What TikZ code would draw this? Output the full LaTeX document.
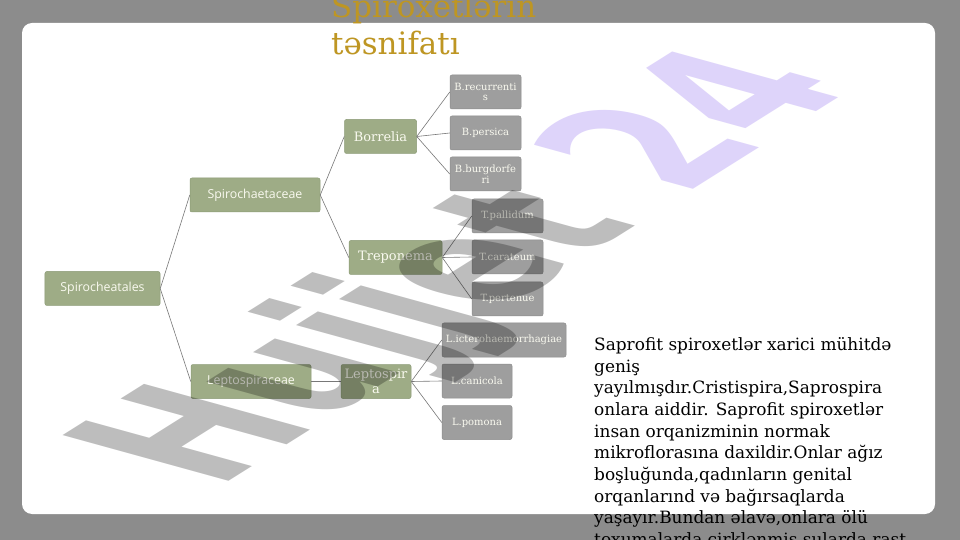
\documentclass[tikz,border=0pt]{standalone}
\usepackage{fontspec}
\setmainfont{DejaVu Serif}
\newfontfamily\boxsans{Open Sans}
\newfontfamily\wmfont{DejaVu Sans}
\definecolor{bggrey}{RGB}{140,140,140}
\definecolor{gold}{RGB}{190,150,35}
\definecolor{boxgreen}{RGB}{158,172,134}
\definecolor{boxgreenedge}{RGB}{140,155,118}
\definecolor{leafgrey}{RGB}{158,158,158}
\definecolor{leafedge}{RGB}{140,140,140}
\definecolor{boxtext}{RGB}{250,250,240}
\definecolor{linegrey}{RGB}{120,120,120}
\definecolor{lav}{RGB}{128,90,236}
\begin{document}
\begin{tikzpicture}[x=1bp,y=-1bp,
  basebox/.style={rounded corners=2bp, inner sep=0pt, text=boxtext, align=center, minimum height=34bp, line width=0.5bp},
  famgreen/.style={basebox, fill=boxgreen, draw=boxgreenedge, font=\boxsans\fontsize{12.4}{14}\selectfont},
  genusgreen/.style={basebox, fill=boxgreen, draw=boxgreenedge, font=\fontsize{13}{15}\selectfont},
  leafbox/.style={basebox, fill=leafgrey, draw=leafedge, minimum width=71bp, font=\fontsize{10}{10.5}\selectfont},
  link/.style={draw=linegrey, line width=0.6bp}]
% background and card
\fill[bggrey] (0,0) rectangle (960,540);
\useasboundingbox (0,0) rectangle (960,540);
\fill[white, rounded corners=10bp] (22,23) rectangle (935,514);
% title
\node[anchor=base west, inner sep=0pt, align=left, text=gold, font=\fontsize{31}{38}\selectfont] (title) at (331,55) {Spiroxetlərin\\təsnifatı};
% diagram nodes
\node[famgreen, minimum width=115bp] (sp0) at (102.5,288.5) {Spirocheatales};
\node[famgreen, minimum width=130bp] (sp1) at (255,195) {Spirochaetaceae};
\node[famgreen, minimum width=120bp] (lp1) at (251,381.5) {Leptospiraceae};
\node[genusgreen, minimum width=72bp] (bor) at (380.5,136.5) {Borrelia};
\node[genusgreen, minimum width=93bp] (tre) at (395.5,257.5) {Treponema};
\node[genusgreen, minimum width=70bp] (lep) at (376,381.5) {Leptospir\\a};
\node[leafbox] (b1) at (485.5,92) {B.recurrenti\\s};
\node[leafbox] (b2) at (485.5,133) {B.persica};
\node[leafbox] (b3) at (485.5,174) {B.burgdorfe\\ri};
\node[leafbox] (t1) at (507.5,216) {T.pallidum};
\node[leafbox] (t2) at (507.5,257) {T.carateum};
\node[leafbox] (t3) at (507.5,299) {T.pertenue};
\node[leafbox, minimum width=124bp] (l1) at (504,340) {L.icterohaemorrhagiae};
\node[leafbox, minimum width=70bp] (l2) at (477,381) {L.canicola};
\node[leafbox, minimum width=70bp] (l3) at (477,422.5) {L.pomona};
% connectors
\draw[link] (sp0.east) -- (sp1.west);
\draw[link] (sp0.east) -- (lp1.west);
\draw[link] (sp1.east) -- (bor.west);
\draw[link] (sp1.east) -- (tre.west);
\draw[link] (lp1.east) -- (lep.west);
\draw[link] (bor.east) -- (b1.west);
\draw[link] (bor.east) -- (b2.west);
\draw[link] (bor.east) -- (b3.west);
\draw[link] (tre.east) -- (t1.west);
\draw[link] (tre.east) -- (t2.west);
\draw[link] (tre.east) -- (t3.west);
\draw[link] (lep.east) -- (l1.west);
\draw[link] (lep.east) -- (l2.west);
\draw[link] (lep.east) -- (l3.west);
% paragraph
\node[anchor=base west, inner sep=0pt, align=left, text=black, font=\fontsize{17}{21.7}\selectfont] (para) at (594,545.3) {Saprofit spiroxetlər xarici mühitdə\\geniş\\yayılmışdır.Cristispira,Saprospira\\onlara aiddir. Saprofit spiroxetlər\\insan orqanizminin normak\\mikroflorasına daxildir.Onlar ağız\\boşluğunda,qadınların genital\\orqanlarınd və bağırsaqlarda\\yaşayır.Bundan əlavə,onlara ölü\\toxumalarda çirklənmiş sularda rast};
% watermark
\begin{scope}[shift={(215,490)}, cm={12.52,7.87,-22.85,6.30,(0,0)}]
\node[transform shape, anchor=base west, inner sep=0pt, text=black, text opacity=0.26, font=\wmfont\bfseries\fontsize{10}{12}\selectfont] (wm) at (0,0) {Hujjet \textcolor{lav}{24}};
\end{scope}
\end{tikzpicture}
\end{document}
